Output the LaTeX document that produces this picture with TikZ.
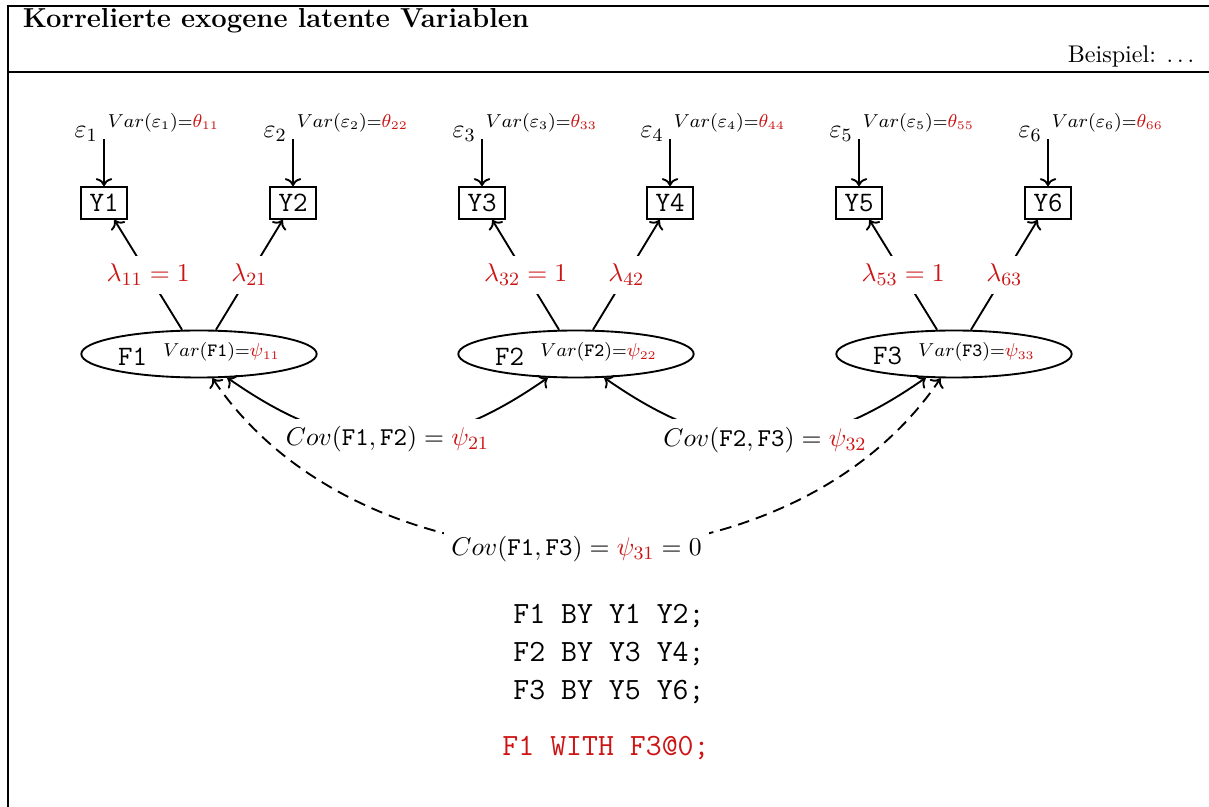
\documentclass[tikz,border=0pt]{standalone}
\usepackage{xcolor}
\usepackage{amsmath}
\usepackage{tikz}
\usetikzlibrary{shapes, arrows.meta, positioning, calc}
\definecolor{parred}{RGB}{204,20,20}
\newcommand{\varlab}[2]{$Var(#1)$=$\color{parred}#2$}
\tikzset{
    obs/.style={
        rectangle, draw, minimum width=0.7cm, minimum height=0.48cm,
        inner sep=1pt, font=\fontsize{12}{14}\selectfont\ttfamily
    },
    lat/.style={
        ellipse, draw, minimum width=3.51cm, minimum height=0.705cm,
        inner sep=1pt
    },
    errlab/.style={inner sep=0pt, font=\fontsize{11.2}{13}\selectfont},
    varlab/.style={inner sep=0pt, font=\fontsize{7.6}{9}\selectfont},
    load/.style={fill=white, text=parred, font=\fontsize{10.8}{13}\selectfont},
    cov/.style={fill=white, font=\fontsize{10.8}{13}\selectfont},
    code/.style={align=center, font=\fontsize{13.2}{16.2}\selectfont\ttfamily}
}

\begin{document}
\begin{tikzpicture}[thick]
        \useasboundingbox (0,0) rectangle (18.135,-12.105);
        % Frame
        \draw (18.135,-0.09) -- (0.12,-0.09) -- (0.12,-12.105);
        \draw (0.12,-1.08) -- (18.135,-1.08);
        \node [anchor=base west, inner sep=0pt, font=\fontsize{11.7}{14}\selectfont\bfseries] (title) at (0.33,-0.42) {Korrelierte exogene latente Variablen};
        \node [anchor=base east, inner sep=0pt, font=\fontsize{10.3}{12}\selectfont] (bsp) at (17.925,-0.945) {Beispiel: $\ldots$};

        % Indicators
        \node [obs] (Y1) at (1.56, -3.045) {Y1};
        \node [obs] (Y2) at (4.395, -3.045) {Y2};
        \node [obs] (Y3) at (7.23, -3.045) {Y3};
        \node [obs] (Y4) at (10.05, -3.045) {Y4};
        \node [obs] (Y5) at (12.885, -3.045) {Y5};
        \node [obs] (Y6) at (15.72, -3.045) {Y6};

        % Factors
        \node [lat] (F1) at (2.985, -5.31) {\fontsize{12}{14}\selectfont\texttt{F1}\hspace{7pt}\raisebox{3.5pt}{\fontsize{7.6}{9}\selectfont\varlab{\mathtt{F1}}{\psi_{11}}}};
        \node [lat] (F2) at (8.64, -5.31) {\fontsize{12}{14}\selectfont\texttt{F2}\hspace{7pt}\raisebox{3.5pt}{\fontsize{7.6}{9}\selectfont\varlab{\mathtt{F2}}{\psi_{22}}}};
        \node [lat] (F3) at (14.31, -5.31) {\fontsize{12}{14}\selectfont\texttt{F3}\hspace{7pt}\raisebox{3.5pt}{\fontsize{7.6}{9}\selectfont\varlab{\mathtt{F3}}{\psi_{33}}}};

        % Residuals
        \coordinate [above=0.7cm of Y1] (e1);
        \coordinate [above=0.7cm of Y2] (e2);
        \coordinate [above=0.7cm of Y3] (e3);
        \coordinate [above=0.7cm of Y4] (e4);
        \coordinate [above=0.7cm of Y5] (e5);
        \coordinate [above=0.7cm of Y6] (e6);
        \node [errlab, anchor=base east] (eps1) at ($(e1)+(-0.08,0.03)$) {$\varepsilon_1$};
        \node [errlab, anchor=base east] (eps2) at ($(e2)+(-0.08,0.03)$) {$\varepsilon_2$};
        \node [errlab, anchor=base east] (eps3) at ($(e3)+(-0.08,0.03)$) {$\varepsilon_3$};
        \node [errlab, anchor=base east] (eps4) at ($(e4)+(-0.08,0.03)$) {$\varepsilon_4$};
        \node [errlab, anchor=base east] (eps5) at ($(e5)+(-0.08,0.03)$) {$\varepsilon_5$};
        \node [errlab, anchor=base east] (eps6) at ($(e6)+(-0.08,0.03)$) {$\varepsilon_6$};
        \node [varlab, anchor=base west] (v1) at ($(e1)+(0.045,0.18)$) {\varlab{\varepsilon_1}{\theta_{11}}};
        \node [varlab, anchor=base west] (v2) at ($(e2)+(0.045,0.18)$) {\varlab{\varepsilon_2}{\theta_{22}}};
        \node [varlab, anchor=base west] (v3) at ($(e3)+(0.045,0.18)$) {\varlab{\varepsilon_3}{\theta_{33}}};
        \node [varlab, anchor=base west] (v4) at ($(e4)+(0.045,0.18)$) {\varlab{\varepsilon_4}{\theta_{44}}};
        \node [varlab, anchor=base west] (v5) at ($(e5)+(0.045,0.18)$) {\varlab{\varepsilon_5}{\theta_{55}}};
        \node [varlab, anchor=base west] (v6) at ($(e6)+(0.045,0.18)$) {\varlab{\varepsilon_6}{\theta_{66}}};

        % Flows
        \draw [->] (e1) -- (Y1);
        \draw [->] (e2) -- (Y2);
        \draw [->] (e3) -- (Y3);
        \draw [->] (e4) -- (Y4);
        \draw [->] (e5) -- (Y5);
        \draw [->] (e6) -- (Y6);
        \draw [->] (F1.125) -- node [load] (l11) {$\lambda_{11} = 1$} (Y1);
        \draw [->] (F1.55) -- node [load] (l21) {$\lambda_{21}$} (Y2);
        \draw [->] (F2.125) -- node [load] (l32) {$\lambda_{32} = 1$} (Y3);
        \draw [->] (F2.55) -- node [load] (l42) {$\lambda_{42}$} (Y4);
        \draw [->] (F3.125) -- node [load] (l53) {$\lambda_{53} = 1$} (Y5);
        \draw [->] (F3.55) -- node [load] (l63) {$\lambda_{63}$} (Y6);

        % Covariances
        \draw [<->] (F1.-40) to [out=-35, in=-145, looseness=1.15] node [cov] (c21) {$Cov(\mathtt{F1},\mathtt{F2}) = {\color{parred}\psi_{21}}$} (F2.-140);
        \draw [<->] (F2.-40) to [out=-35, in=-145, looseness=1.15] node [cov] (c32) {$Cov(\mathtt{F2},\mathtt{F3}) = {\color{parred}\psi_{32}}$} (F3.-140);
        \draw [<->, dash pattern=on 5pt off 3pt] (F1.-61) to [out=-56, in=-124, looseness=0.97] node [cov] (c31) {$Cov(\mathtt{F1},\mathtt{F3}) = {\color{parred}\psi_{31}} = 0$} (F3.-119);

        % Mplus
        \node [code] (by) at (9.135, -9.81) {F1 BY Y1 Y2;\\F2 BY Y3 Y4;\\F3 BY Y5 Y6;};
        \node [code, text=parred] (with) at (9.09, -11.22) {F1 WITH F3@0;};
    \end{tikzpicture}
\end{document}
